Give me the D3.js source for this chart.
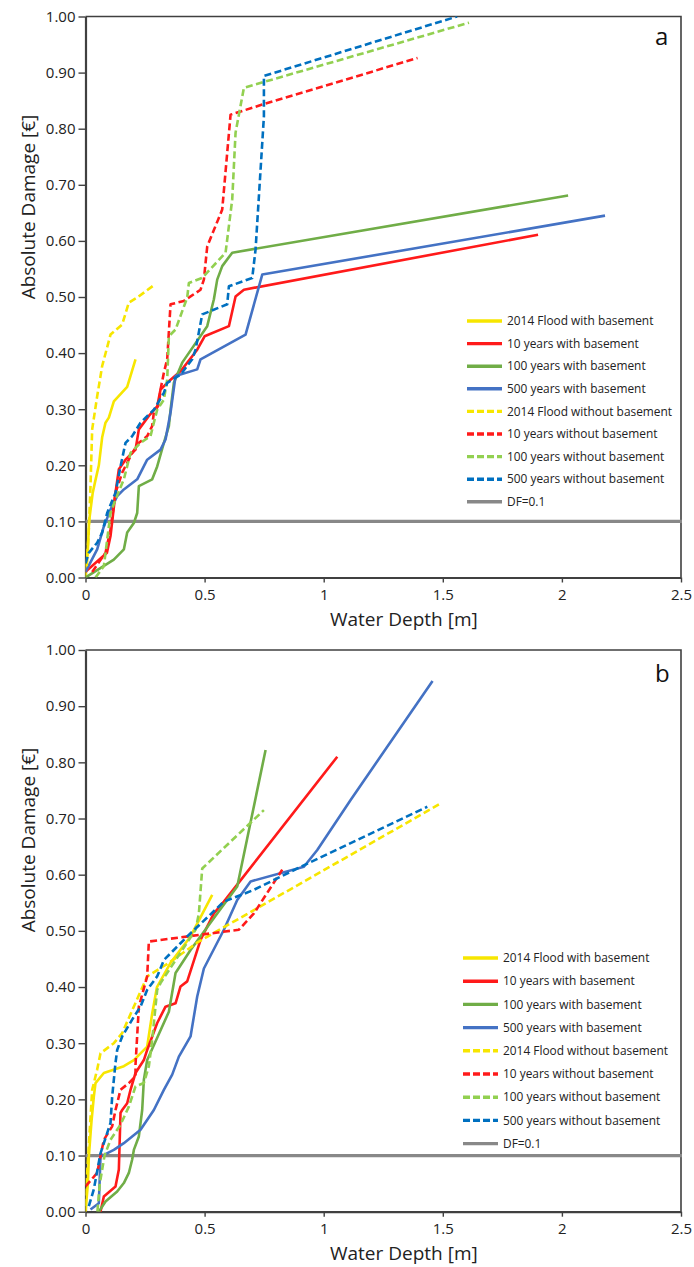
<!DOCTYPE html>
<html>
<head>
<meta charset="utf-8">
<script src="https://cdn.jsdelivr.net/npm/d3@7"></script>
<style>
  body { margin: 0; background: #fff; }
  svg { display: block; font-family: "Open Sans", "DejaVu Sans", sans-serif; }
</style>
</head>
<body>
<svg id="chart" width="694" height="1267"></svg>
<script>
// ---- data (water depth [m], absolute damage) ----
const seriesNames = [
  "2014 Flood with basement", "10 years with basement", "100 years with basement", "500 years with basement",
  "2014 Flood without basement", "10 years without basement", "100 years without basement", "500 years without basement"
];
const seriesColors = ["#f7e600", "#ff1a1a", "#70ad47", "#4472c4", "#f7e600", "#ff1a1a", "#92d050", "#0070c0"];
const seriesDashed = [false, false, false, false, true, true, true, true];
const xTicks = [0, 0.5, 1, 1.5, 2, 2.5];
const yTicks = [0, 0.1, 0.2, 0.3, 0.4, 0.5, 0.6, 0.7, 0.8, 0.9, 1.0];
const dfValue = 0.1;

// panel a
const a_flood2014_with = [[0,0],[0.01,0.05],[0.015,0.10],[0.03,0.15],[0.04,0.17],[0.056,0.20],[0.07,0.25],[0.084,0.276],[0.098,0.285],[0.119,0.314],[0.175,0.34],[0.21,0.389]];
const a_10y_with = [[0,0.01],[0.09,0.044],[0.105,0.074],[0.126,0.151],[0.14,0.193],[0.168,0.21],[0.21,0.228],[0.224,0.264],[0.266,0.288],[0.301,0.305],[0.315,0.335],[0.35,0.35],[0.4,0.368],[0.469,0.406],[0.5,0.43],[0.602,0.448],[0.63,0.501],[0.665,0.513],[1.9,0.611]];
const a_100y_with = [[0,0],[0.119,0.032],[0.161,0.05],[0.175,0.08],[0.203,0.097],[0.217,0.115],[0.224,0.163],[0.28,0.175],[0.301,0.198],[0.329,0.24],[0.35,0.27],[0.357,0.299],[0.371,0.347],[0.406,0.383],[0.511,0.448],[0.539,0.496],[0.553,0.531],[0.574,0.555],[0.616,0.579],[2.026,0.681]];
const a_500y_with = [[0,0.01],[0.049,0.05],[0.077,0.091],[0.105,0.121],[0.133,0.145],[0.161,0.157],[0.217,0.175],[0.259,0.21],[0.315,0.228],[0.336,0.246],[0.357,0.294],[0.378,0.359],[0.469,0.371],[0.483,0.389],[0.672,0.433],[0.742,0.54],[2.181,0.645]];
const a_flood2014_without = [[0.005,0.02],[0.014,0.086],[0.021,0.163],[0.028,0.264],[0.049,0.323],[0.07,0.377],[0.105,0.433],[0.154,0.451],[0.182,0.49],[0.217,0.499],[0.287,0.521]];
const a_10y_without = [[0.028,0.01],[0.084,0.044],[0.105,0.086],[0.126,0.151],[0.154,0.187],[0.196,0.222],[0.224,0.24],[0.259,0.252],[0.28,0.27],[0.287,0.294],[0.308,0.308],[0.315,0.335],[0.329,0.365],[0.343,0.389],[0.357,0.487],[0.413,0.493],[0.483,0.513],[0.497,0.531],[0.511,0.59],[0.574,0.656],[0.609,0.825],[0.742,0.843],[1.394,0.926]];
const a_100y_without = [[0.042,0],[0.077,0.02],[0.105,0.115],[0.126,0.139],[0.161,0.175],[0.189,0.222],[0.231,0.24],[0.273,0.252],[0.287,0.276],[0.301,0.299],[0.329,0.317],[0.343,0.353],[0.35,0.43],[0.378,0.442],[0.427,0.499],[0.434,0.525],[0.49,0.534],[0.588,0.579],[0.616,0.674],[0.63,0.793],[0.665,0.873],[1.61,0.989]];
const a_500y_without = [[0,0.025],[0.014,0.044],[0.049,0.062],[0.07,0.08],[0.091,0.115],[0.126,0.151],[0.147,0.198],[0.168,0.24],[0.196,0.252],[0.231,0.276],[0.287,0.299],[0.329,0.329],[0.343,0.347],[0.4,0.362],[0.448,0.389],[0.462,0.406],[0.49,0.469],[0.595,0.487],[0.602,0.519],[0.70,0.534],[0.714,0.585],[0.749,0.822],[0.749,0.894],[1.56,1.0]];

// panel b
const b_flood2014_with = [[0,0],[0.01,0.05],[0.014,0.098],[0.025,0.16],[0.035,0.205],[0.042,0.229],[0.077,0.247],[0.161,0.259],[0.203,0.27],[0.259,0.294],[0.28,0.353],[0.30,0.40],[0.357,0.443],[0.441,0.49],[0.532,0.564]];
const b_10y_with = [[0.063,0],[0.077,0.027],[0.126,0.045],[0.14,0.075],[0.147,0.176],[0.154,0.181],[0.175,0.193],[0.189,0.217],[0.21,0.247],[0.245,0.27],[0.259,0.288],[0.301,0.336],[0.336,0.365],[0.378,0.371],[0.399,0.401],[0.427,0.41],[0.483,0.484],[0.539,0.531],[0.581,0.552],[1.057,0.81]];
const b_100y_with = [[0.056,0],[0.084,0.018],[0.133,0.036],[0.161,0.051],[0.182,0.069],[0.196,0.093],[0.203,0.11],[0.224,0.134],[0.238,0.181],[0.245,0.235],[0.259,0.27],[0.35,0.356],[0.378,0.425],[0.441,0.466],[0.553,0.531],[0.637,0.579],[0.756,0.822]];
const b_500y_with = [[0.021,0.004],[0.056,0.015],[0.063,0.098],[0.119,0.11],[0.161,0.122],[0.231,0.146],[0.287,0.181],[0.329,0.217],[0.364,0.244],[0.392,0.276],[0.441,0.312],[0.469,0.383],[0.497,0.433],[0.581,0.502],[0.637,0.555],[0.693,0.588],[0.917,0.614],[0.973,0.644],[1.113,0.733],[1.457,0.945]];
const b_flood2014_without = [[0,0.01],[0.007,0.069],[0.028,0.217],[0.049,0.253],[0.063,0.282],[0.119,0.30],[0.154,0.318],[0.259,0.419],[0.35,0.443],[0.476,0.481],[1.492,0.727]];
const b_10y_without = [[0,0.045],[0.049,0.069],[0.077,0.128],[0.112,0.152],[0.126,0.181],[0.147,0.217],[0.182,0.229],[0.21,0.241],[0.21,0.262],[0.224,0.365],[0.259,0.419],[0.266,0.481],[0.644,0.502],[0.707,0.531],[0.826,0.609]];
const b_100y_without = [[0.05,0],[0.06,0.05],[0.08,0.10],[0.105,0.128],[0.147,0.155],[0.182,0.187],[0.21,0.223],[0.245,0.229],[0.266,0.259],[0.28,0.306],[0.301,0.395],[0.315,0.407],[0.462,0.502],[0.476,0.531],[0.49,0.611],[0.749,0.715]];
const b_500y_without = [[0.014,0.01],[0.035,0.04],[0.063,0.104],[0.105,0.158],[0.112,0.205],[0.126,0.265],[0.133,0.288],[0.154,0.312],[0.203,0.347],[0.231,0.365],[0.259,0.395],[0.301,0.419],[0.329,0.448],[0.427,0.49],[0.581,0.552],[0.707,0.573],[0.903,0.614],[1.435,0.721]];

const panels = [
  { label: "a", top: 16.5, bottom: 577.5, legendX: 467, legendY: 321, legendStep: 22.6, yTitleCenter: 207, labelDy: 28.5,
    series: [a_flood2014_with, a_10y_with, a_100y_with, a_500y_with, a_flood2014_without, a_10y_without, a_100y_without, a_500y_without] },
  { label: "b", top: 650, bottom: 1211.7, legendX: 463, legendY: 958, legendStep: 23.2, yTitleCenter: 840, labelDy: 31.5,
    series: [b_flood2014_with, b_10y_with, b_100y_with, b_500y_with, b_flood2014_without, b_10y_without, b_100y_without, b_500y_without] }
];

const svg = d3.select("#chart");
const left = 85.5, right = 681;
const axisColor = "#404040";
const dash = "7,3.5";

panels.forEach((p, pi) => {
  const x = d3.scaleLinear().domain([0, 2.5]).range([left, right]);
  const y = d3.scaleLinear().domain([0, 1]).range([p.bottom, p.top]);
  const g = svg.append("g");

  svg.append("clipPath").attr("id", "clip" + pi)
    .append("rect").attr("x", left).attr("y", p.top).attr("width", right - left).attr("height", p.bottom - p.top);

  // frame: top and right
  g.append("path")
    .attr("d", `M${left},${p.top}H${right}V${p.bottom}`)
    .attr("fill", "none").attr("stroke", axisColor).attr("stroke-width", 1.6);

  // y axis
  const yAxis = g.append("g").attr("transform", `translate(${left},0)`)
    .call(d3.axisLeft(y).tickValues(yTicks).tickFormat(d3.format(".2f")).tickSize(7).tickSizeOuter(0));
  yAxis.select(".domain").attr("stroke", axisColor).attr("stroke-width", 2.2);
  yAxis.selectAll(".tick line").attr("stroke", axisColor).attr("stroke-width", 1.4);
  yAxis.selectAll(".tick text").attr("font-size", 15).attr("fill", "#222").attr("x", -10)
    .attr("font-family", "'Open Sans', sans-serif");

  // x axis
  const xAxis = g.append("g").attr("transform", `translate(0,${p.bottom})`)
    .call(d3.axisBottom(x).tickValues(xTicks).tickFormat(d => String(d)).tickSize(5).tickSizeOuter(0));
  xAxis.select(".domain").attr("stroke", axisColor).attr("stroke-width", 2.2);
  xAxis.selectAll(".tick line").attr("stroke", axisColor).attr("stroke-width", 1.4);
  xAxis.selectAll(".tick text").attr("font-size", 15).attr("fill", "#222").attr("y", 12)
    .attr("font-family", "'Open Sans', sans-serif");

  // DF = 0.1 reference line
  g.append("line")
    .attr("x1", left).attr("x2", right + 1)
    .attr("y1", y(dfValue)).attr("y2", y(dfValue))
    .attr("stroke", "#888").attr("stroke-width", 3.2);

  // data lines
  const line = d3.line().x(d => x(d[0])).y(d => y(d[1]));
  const lines = g.append("g").attr("clip-path", `url(#clip${pi})`);
  p.series.forEach((s, i) => {
    lines.append("path")
      .datum(s)
      .attr("d", line)
      .attr("fill", "none")
      .attr("stroke", seriesColors[i])
      .attr("stroke-width", 2.6)
      .attr("stroke-linejoin", "round")
      .attr("stroke-dasharray", seriesDashed[i] ? dash : null);
  });

  // legend
  const legendItems = seriesNames.map((n, i) => ({ name: n, color: seriesColors[i], dashed: seriesDashed[i] }))
    .concat([{ name: "DF=0.1", color: "#888", dashed: false }]);
  const leg = g.append("g").selectAll("g").data(legendItems).enter().append("g")
    .attr("transform", (d, i) => `translate(${p.legendX},${p.legendY + i * p.legendStep})`);
  leg.append("line")
    .attr("x1", 0).attr("x2", 35)
    .attr("stroke", d => d.color).attr("stroke-width", 3.4)
    .attr("stroke-dasharray", d => d.dashed ? "7,3" : null);
  leg.append("text")
    .attr("x", 40).attr("dy", "0.35em")
    .attr("font-size", 11.9).attr("fill", "#222")
    .text(d => d.name);

  // panel label
  g.append("text").attr("x", 655).attr("y", p.top + p.labelDy)
    .attr("font-size", 24).attr("fill", "#111").text(p.label);

  // axis titles
  g.append("text")
    .attr("transform", `translate(35,${p.yTitleCenter}) rotate(-90)`)
    .attr("text-anchor", "middle").attr("font-size", 19).attr("fill", "#222")
    .text("Absolute Damage [€]");
  g.append("text")
    .attr("x", 330).attr("y", p.bottom + 48)
    .attr("font-size", 19).attr("fill", "#222")
    .text("Water Depth [m]");
});
</script>
</body>
</html>
